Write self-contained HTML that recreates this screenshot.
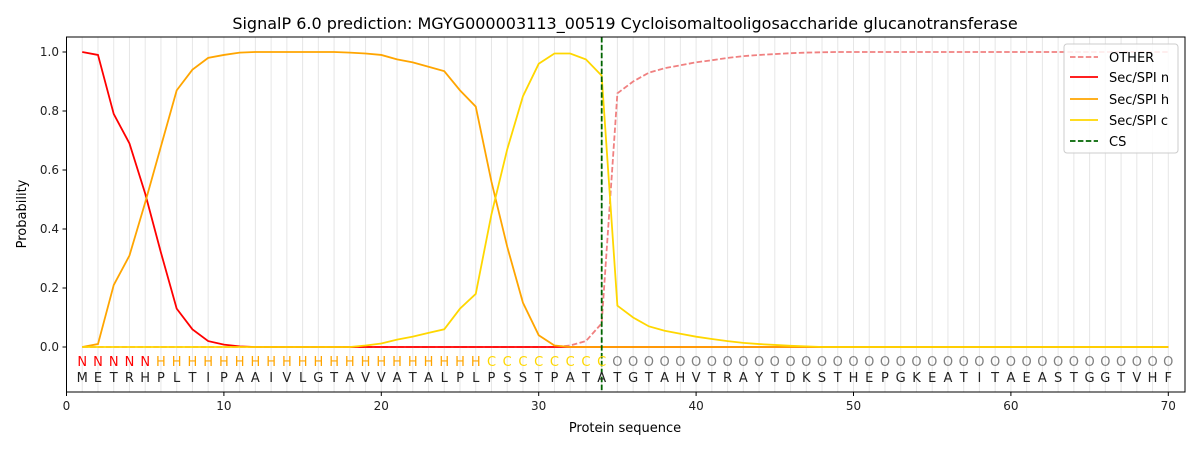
<!DOCTYPE html>
<html><head><meta charset="utf-8"><style>
body{margin:0;background:#fff;}
svg{font-family:"DejaVu Sans","Liberation Sans",sans-serif;}
</style></head><body>
<svg id="s" width="1200" height="450" xmlns="http://www.w3.org/2000/svg">
<rect width="1200" height="450" fill="#fff"/>
<g id="grid"></g>
<g id="lines"></g>
<line x1="601.7" y1="37" x2="601.7" y2="392" stroke="#006400" stroke-width="1.8" stroke-dasharray="5.5,2.4"/>
<text id="lab" font-size="13" y="366"><tspan fill="#ff0000">NNNNN</tspan><tspan fill="#ffa500">HHHHHHHHHHHHHHHHHHHHH</tspan><tspan fill="#ffd700">CCCCCCCC</tspan><tspan fill="#808080">OOOOOOOOOOOOOOOOOOOOOOOOOOOOOOOOOOOO</tspan></text>
<text id="seq" font-size="13" y="382" fill="#222">METRHPLTIPAAIVLGTAVVATALPLPSSTPATATGTAHVTRAYTDKSTHEPGKEATITAEASTGGTVHF</text>
<rect x="66.5" y="37" width="1118.5" height="355" fill="none" stroke="#000" stroke-width="1"/>
<g id="ticks" font-size="12" fill="#222"></g>
<text x="625" y="29" font-size="16" text-anchor="middle" fill="#000">SignalP 6.0 prediction: MGYG000003113_00519 Cycloisomaltooligosaccharide glucanotransferase</text>
<text x="625" y="432" font-size="13" text-anchor="middle">Protein sequence</text>
<text transform="translate(26,214) rotate(-90)" font-size="13" text-anchor="middle">Probability</text>
<g>
<rect x="1064" y="44" width="114" height="109" rx="3" fill="#fff" fill-opacity="0.85" stroke="#ccc"/>
<line x1="1070" y1="57" x2="1098" y2="57" stroke="#f08080" stroke-width="1.8" stroke-dasharray="5.5,2.4"/>
<line x1="1070" y1="77" x2="1098" y2="77" stroke="#ff0000" stroke-width="1.8"/>
<line x1="1070" y1="99" x2="1098" y2="99" stroke="#ffa500" stroke-width="1.8"/>
<line x1="1070" y1="120" x2="1098" y2="120" stroke="#ffd700" stroke-width="1.8"/>
<line x1="1070" y1="141" x2="1098" y2="141" stroke="#006400" stroke-width="1.8" stroke-dasharray="5.5,2.4"/>
<g font-size="13"><text x="1109" y="62">OTHER</text><text x="1109" y="82">Sec/SPI n</text><text x="1109" y="104">Sec/SPI h</text><text x="1109" y="125">Sec/SPI c</text><text x="1109" y="146">CS</text></g>
</g>
</svg>
<script>
const X=i=>66.5+15.74*i, Y=v=>347-295*v;
let g=document.getElementById('grid'),h='';
for(let i=1;i<=70;i++)h+=`<line x1="${X(i)}" x2="${X(i)}" y1="37" y2="392" stroke="#e6e6e6" stroke-width="1"/>`;
g.innerHTML=h;
let pad=(a)=>{while(a.length<70)a.push(a[a.length-1]);return a;};
let n=pad([1,0.99,0.79,0.69,0.52,0.32,0.13,0.06,0.02,0.008,0.002,0]);
let hh=pad([0,0.01,0.21,0.31,0.49,0.68,0.87,0.94,0.98,0.99,0.998,1,1,1,1,1,1,0.998,0.995,0.99,0.975,0.965,0.95,0.935,0.87,0.815,0.56,0.34,0.15,0.04,0.005,0]);
let c=pad([0,0,0,0,0,0,0,0,0,0,0,0,0,0,0,0,0,0,0.005,0.012,0.025,0.035,0.048,0.06,0.13,0.18,0.45,0.67,0.85,0.96,0.995,0.995,0.975,0.92,0.14,0.1,0.07,0.055,0.045,0.035,0.027,0.02,0.014,0.01,0.007,0.004,0.002,0]);
let o=[];for(let i=0;i<31;i++)o.push(0);
o=pad(o.concat([0.005,0.02,0.08,0.86,0.9,0.93,0.945,0.955,0.965,0.972,0.98,0.986,0.99,0.993,0.996,0.998,0.999,1]));
let pl=(a,col,d)=>`<polyline fill="none" stroke="${col}" stroke-width="1.8" ${d?'stroke-dasharray="5.5,2.4"':''} points="${a.map((v,i)=>X(i+1)+','+Y(v)).join(' ')}"/>`;
document.getElementById('lines').innerHTML=pl(o,'#f08080',1)+pl(n,'#ff0000')+pl(hh,'#ffa500')+pl(c,'#ffd700');
let xs=[];for(let i=1;i<=70;i++)xs.push(X(i));
let k=0;document.querySelectorAll('#lab tspan').forEach(t=>{let L=t.textContent.length;t.setAttribute('x',xs.slice(k,k+L).join(' '));k+=L;});
document.getElementById('seq').setAttribute('x',xs.join(' '));
document.querySelectorAll('#lab,#seq').forEach(t=>t.setAttribute('text-anchor','middle'));
document.querySelectorAll('#lab tspan').forEach(t=>t.setAttribute('text-anchor','middle'));
let tk='';
for(let v=0;v<=70;v+=10)tk+=`<line x1="${X(v)}" x2="${X(v)}" y1="392" y2="396" stroke="#000"/><text x="${X(v)}" y="410" text-anchor="middle">${v}</text>`;
for(let v=0;v<=5;v++){let y=Y(v*0.2);tk+=`<line x1="62.5" x2="66.5" y1="${y}" y2="${y}" stroke="#000"/><text x="59" y="${y+4}" text-anchor="end">${(v*0.2).toFixed(1)}</text>`;}
document.getElementById('ticks').innerHTML=tk;
</script>
</body></html>
